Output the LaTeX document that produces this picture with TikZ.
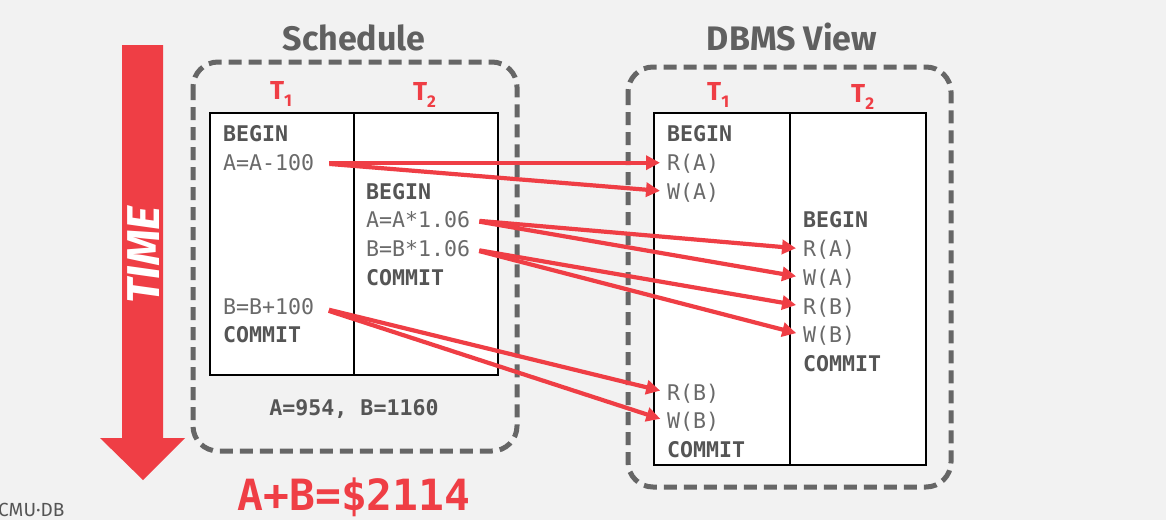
\documentclass[tikz,border=0pt]{standalone}
\usepackage{fontspec}
\setmainfont{Fira Sans}
\setmonofont{DejaVu Sans Mono}
\usetikzlibrary{arrows.meta}
\usepackage{xcolor}
\definecolor{dbred}{HTML}{EF3E45}
\definecolor{framegray}{HTML}{666666}
\definecolor{titlegray}{HTML}{606060}
\definecolor{opgray}{HTML}{6A6A6A}
\definecolor{kwgray}{HTML}{555555}
\definecolor{slidebg}{HTML}{F2F2F2}
\def\row{28.7}

\begin{document}
\begin{tikzpicture}[x=1pt,y=-1pt,
  op/.style={anchor=west, inner xsep=0pt, inner ysep=0pt, text height=15.7pt, text depth=0pt,
    font=\ttfamily\fontsize{21.6}{26}\selectfont, text=opgray},
  kw/.style={op, font=\ttfamily\bfseries\fontsize{21.6}{26}\selectfont, text=kwgray},
  flow/.style={dbred, line width=4.2pt, shorten <=9pt, shorten >=7pt, -{Triangle[length=14pt,width=14pt]}},
  frame/.style={framegray, line width=5pt, dash pattern=on 13pt off 7pt, rounded corners=25pt},
  tname/.style={anchor=base west, inner sep=0pt, text=dbred, font=\bfseries\fontsize{26}{28}\selectfont},
  title/.style={anchor=base, inner sep=0pt, text=titlegray, font=\bfseries\fontsize{34}{40}\selectfont}]
\useasboundingbox (0,0) rectangle (1166,520);
\fill[slidebg] (0,0) rectangle (1166,520);

% time arrow
\fill[dbred] (122,45) -- (163,45) -- (163,438) -- (185,438) -- (143,480) -- (100,438) -- (122,438) -- cycle;
\node[rotate=90, text=white, inner sep=0pt, font=\bfseries\itshape\fontsize{46}{50}\selectfont] (time) at (144,255) {TIME};

% titles and frames
\node[title] (schedule) at (354,50) {Schedule};
\node[title] (dbms) at (792,50) {DBMS View};
\draw[frame] (193,62) rectangle (517,451);
\draw[frame] (628,67) rectangle (951,487);

% tables
\filldraw[fill=white, line width=1.2pt] (210,113) rectangle (498,375);
\draw[line width=1.2pt] (354,113) -- (354,375);
\filldraw[fill=white, line width=1.2pt] (654,113) rectangle (926,465);
\draw[line width=1.2pt] (790,113) -- (790,465);

\foreach \x/\y/\n/\s in {270/99/1/s, 413/100/2/s, 707/100/1/d, 851/102/2/d}
  \node[tname] (\s t\n) at (\x,\y) {T\raisebox{-7pt}{\fontsize{17}{17}\selectfont\n}};

% schedule
\foreach \r/\txt/\sty in {0/BEGIN/kw, 1/A=A-100/op, 6/B=B+100/op, 7/COMMIT/kw}
  \node[\sty] (s1-\r) at (223,{134+\r*\row}) {\txt};
\foreach \r/\txt/\sty in {2/BEGIN/kw, 3/A=A*1.06/op, 4/B=B*1.06/op, 5/COMMIT/kw}
  \node[\sty] (s2-\r) at (366,{134+\r*\row}) {\txt};

% dbms view
\foreach \r/\txt/\sty in {0/BEGIN/kw, 1/R(A)/op, 2/W(A)/op, 9/R(B)/op, 10/W(B)/op, 11/COMMIT/kw}
  \node[\sty] (d1-\r) at (667,{134+\r*\row}) {\txt};
\foreach \r/\txt/\sty in {3/BEGIN/kw, 4/R(A)/op, 5/W(A)/op, 6/R(B)/op, 7/W(B)/op, 8/COMMIT/kw}
  \node[\sty] (d2-\r) at (803,{134+\r*\row}) {\txt};

\foreach \a/\b in {s1-1/d1-1, s1-1/d1-2, s1-6/d1-9, s1-6/d1-10}
  \draw[flow, shorten <=15pt] (\a.east) -- (\b.west);
\foreach \a/\b in {s2-3/d2-4, s2-3/d2-5, s2-4/d2-6, s2-4/d2-7}
  \draw[flow] (\a.east) -- (\b.west);

% results
\node[kw, anchor=base] (result) at (354,415) {A=954, B=1160};
\node[anchor=base, inner sep=0pt, text=dbred, font=\ttfamily\bfseries\fontsize{43}{50}\selectfont] (sum) at (354,510) {A+B=\$2114};
\node[anchor=base west, inner sep=0pt, text=kwgray, font=\fontsize{19}{20}\selectfont] (logo) at (-2,516) {CMU·DB};
\end{tikzpicture}
\end{document}
